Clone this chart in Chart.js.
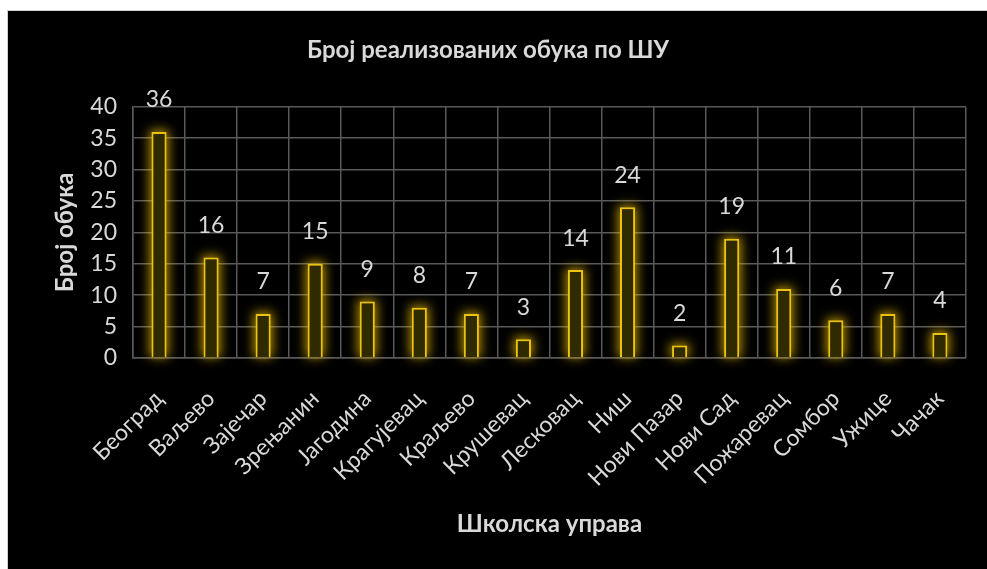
<!DOCTYPE html>
<html>
<head>
<meta charset="utf-8">
<script src="https://cdn.jsdelivr.net/npm/chart.js@4"></script>
<style>
  html, body { margin: 0; padding: 0; background: #fff; }
  #wrap {
    position: absolute; left: 7px; top: 10px;
    width: 979px; height: 558px;
    background: #000;
    border-left: 1px solid #cfcfcf;
    border-top: 1px solid #cfcfcf;
  }
</style>
</head>
<body>
<div id="wrap"><canvas id="grafik" width="979" height="558"></canvas></div>
<script>
/* podaci */
const uprave = [
  'Београд', 'Ваљево', 'Зајечар', 'Зрењанин', 'Јагодина', 'Крагујевац',
  'Краљево', 'Крушевац', 'Лесковац', 'Ниш', 'Нови Пазар', 'Нови Сад',
  'Пожаревац', 'Сомбор', 'Ужице', 'Чачак'
];
const brojObuka = [36, 16, 7, 15, 9, 8, 7, 3, 14, 24, 2, 19, 11, 6, 7, 4];
const yTicks = [0, 5, 10, 15, 20, 25, 30, 35, 40];

const naslov = 'Број реализованих обука по ШУ';
const naslovY = 'Број обука';
const naslovX = 'Школска управа';

const FONT = 'Lato, "Open Sans", sans-serif';
const SIVA = '#d9d9d9';

/* sjaj oko stubica - samo senka, oblik je pomeren van platna */
const sjaj = {
  id: 'sjaj',
  beforeDatasetsDraw(chart) {
    const ctx = chart.ctx;
    const meta = chart.getDatasetMeta(0);
    const pomak = 5000;
    ctx.save();
    ctx.shadowColor = 'rgba(235, 190, 0, 0.75)';
    ctx.shadowBlur = 11;
    ctx.shadowOffsetX = pomak;
    ctx.fillStyle = '#000';
    meta.data.forEach(bar => {
      const { x, y, base, width } = bar.getProps(['x', 'y', 'base', 'width'], true);
      ctx.fillRect(x - width / 2 - 2 - pomak, y - 2, width + 4, base - y + 2);
    });
    ctx.restore();
  }
};

/* vrednosti iznad stubica */
const vrednosti = {
  id: 'vrednosti',
  afterDatasetsDraw(chart) {
    const ctx = chart.ctx;
    const meta = chart.getDatasetMeta(0);
    ctx.save();
    ctx.fillStyle = SIVA;
    ctx.font = '23px ' + FONT;
    ctx.textAlign = 'center';
    ctx.textBaseline = 'middle';
    meta.data.forEach((bar, i) => {
      ctx.fillText(String(brojObuka[i]), bar.x, bar.y - 32);
    });
    ctx.restore();
  }
};

new Chart(document.getElementById('grafik'), {
  type: 'bar',
  data: {
    labels: uprave,
    datasets: [{
      data: brojObuka,
      backgroundColor: '#302a00',
      borderColor: '#ecc212',
      borderWidth: 2,
      barPercentage: 0.29,
      categoryPercentage: 1
    }]
  },
  plugins: [sjaj, vrednosti],
  options: {
    responsive: false,
    animation: false,
    layout: { padding: { left: 0, right: 19, top: 0, bottom: 0 } },
    plugins: {
      legend: { display: false },
      tooltip: { enabled: false },
      title: {
        display: true,
        text: naslov,
        color: SIVA,
        font: { family: FONT, size: 24, weight: 'bold' },
        padding: { top: 25, bottom: 42 }
      }
    },
    scales: {
      x: {
        grid: { color: '#595959', lineWidth: 1.5, drawTicks: false, offset: true },
        border: { color: '#595959', width: 1.5 },
        ticks: {
          color: SIVA,
          font: { family: FONT, size: 23 },
          maxRotation: 45,
          minRotation: 45,
          padding: 27,
          autoSkip: false
        },
        title: {
          display: true,
          text: naslovX,
          color: SIVA,
          font: { family: FONT, size: 24, weight: 'bold' },
          padding: { top: 0, bottom: 30 }
        },
        afterFit(scale) { scale.height = 211; }
      },
      y: {
        min: 0,
        max: 40,
        afterBuildTicks(scale) { scale.ticks = yTicks.map(v => ({ value: v })); },
        grid: { color: '#595959', lineWidth: 1.5, drawTicks: false },
        border: { color: '#595959', width: 1.5 },
        ticks: {
          color: SIVA,
          font: { family: FONT, size: 23 },
          padding: 16
        },
        title: {
          display: true,
          text: naslovY,
          color: SIVA,
          font: { family: FONT, size: 24, weight: 'bold' },
          padding: { top: 43, bottom: 0 }
        },
        afterFit(scale) { scale.width = 125; }
      }
    }
  }
});
</script>
</body>
</html>
